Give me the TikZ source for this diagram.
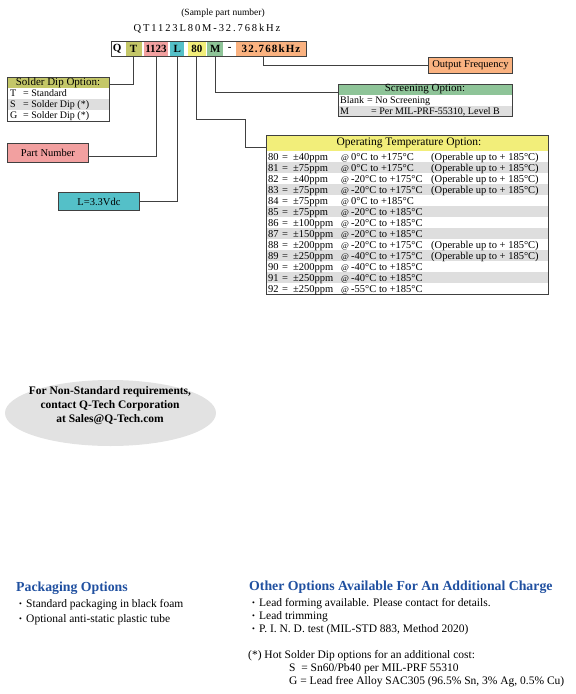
\documentclass[tikz,border=0pt]{standalone}
\usepackage{fontspec}
\setmainfont{Liberation Serif}
\usetikzlibrary{positioning, shapes.geometric}

\definecolor{dipolive}{RGB}{196,199,104}
\definecolor{codepink}{RGB}{242,160,160}
\definecolor{voltteal}{RGB}{84,192,200}
\definecolor{tempyellow}{RGB}{242,238,122}
\definecolor{screengreen}{RGB}{142,196,152}
\definecolor{freqorange}{RGB}{250,178,128}
\definecolor{rowgray}{RGB}{222,222,222}
\definecolor{ovalgray}{RGB}{226,226,226}
\definecolor{titleblue}{RGB}{32,80,160}
\definecolor{edgegray}{RGB}{64,64,64}

\pgfdeclarelayer{background}
\pgfsetlayers{background,main}

\newcommand{\bul}{\makebox[7pt][l]{\raisebox{0.8pt}{\scalebox{0.7}{•}}}}

\begin{document}
\begin{tikzpicture}[x=1pt, y=-1pt,
    seg/.style={fill=#1, inner sep=0pt, minimum height=14pt, font=\fontsize{11}{12}\selectfont\bfseries},
    optbox/.style={draw=edgegray, line width=0.9pt, fill=#1, inner sep=0pt, anchor=north west, font=\fontsize{10.5}{12}\selectfont},
    tablebox/.style={draw=edgegray, line width=0.9pt, inner sep=0pt, anchor=north west},
    cell/.style={inner sep=0pt, anchor=base west, font=\fontsize{10}{11}\selectfont},
    headcell/.style={inner sep=0pt, font=\fontsize{11}{12}\selectfont},
    lead/.style={draw=edgegray, line width=0.9pt},
    heading/.style={inner sep=0pt, anchor=base west, text=titleblue, font=\fontsize{13.8}{16}\selectfont\bfseries},
    bodytext/.style={inner sep=0pt, anchor=base west, font=\fontsize{11.5}{13}\selectfont}
]
\useasboundingbox (0,0) rectangle (576,694);

% Sample part number
\node[inner sep=0pt, font=\fontsize{9.5}{10}\selectfont] (sample) at (223,13) {(Sample part number)};
\node[inner sep=0pt, font=\fontsize{10.5}{12}\selectfont\addfontfeatures{LetterSpace=18}] (sampleno) at (207,29) {QT1123L80M-32.768kHz};

% Part number segments
\node[seg=white, minimum width=12pt, anchor=west] (pQ) at (111,49) {Q};
\node[seg=dipolive, minimum width=16pt, right=2pt of pQ] (pT) {T};
\node[seg=codepink, minimum width=24pt, right=2pt of pT] (pcode) {1123};
\node[seg=voltteal, minimum width=14pt, right=2pt of pcode] (pL) {L};
\node[seg=tempyellow, minimum width=18pt, right=3pt of pL] (ptemp) {80};
\node[seg=screengreen, minimum width=16pt, right=1pt of ptemp] (pM) {M};
\node[seg=white, minimum width=8pt, right=2pt of pM] (pdash) {-};
\node[seg=freqorange, minimum width=70pt, right=2pt of pdash,
      font=\fontsize{11}{12}\selectfont\bfseries\addfontfeatures{LetterSpace=10}] (pfreq) {32.768kHz};
\draw[edgegray, line width=0.8pt] (pQ.north west) rectangle (pfreq.south east);

% Option boxes
\node[optbox=freqorange, minimum width=84pt, minimum height=16pt] (outfreq) at (428,57) {Output Frequency};
\node[optbox=codepink, minimum width=81pt, minimum height=19pt] (part) at (7,143) {Part Number};
\node[optbox=voltteal, minimum width=81pt, minimum height=18pt] (volt) at (58,192) {L=3.3Vdc};

% Solder dip table
\node[tablebox, minimum width=102pt, minimum height=44pt] (dip) at (7,77) {};
\begin{pgfonlayer}{background}
  \fill[dipolive] (7,77) rectangle (109,88);
  \fill[rowgray] (7,99) rectangle (109,110);
\end{pgfonlayer}
\node[headcell] (diphead) at (58,82.5) {Solder Dip Option:};
\foreach \opt/\what [count=\i from 0] in {T/Standard, S/Solder Dip (*), G/Solder Dip (*)} {
  \node[cell] (dipk\opt) at (10,96.8+11*\i) {\opt};
  \node[cell] (dipv\opt) at (23,96.8+11*\i) {= \what};
}

% Screening table
\node[tablebox, minimum width=174pt, minimum height=32pt] (screen) at (338,84) {};
\begin{pgfonlayer}{background}
  \fill[screengreen] (338,84) rectangle (512,95);
  \fill[rowgray] (338,105.5) rectangle (512,116);
\end{pgfonlayer}
\node[headcell] (screenhead) at (425,89.5) {Screening Option:};
\node[cell] (blank) at (340,103.8) {Blank};
\node[cell] (blankv) at (367,103.8) {= No Screening};
\node[cell] (mlev) at (340,114.3) {M};
\node[cell] (mlevv) at (371,114.3) {= Per MIL-PRF-55310, Level B};

% Operating temperature table
\node[tablebox, minimum width=282pt, minimum height=159pt] (temp) at (266,135) {};
\begin{pgfonlayer}{background}
  \fill[tempyellow] (266,135) rectangle (548,151);
\end{pgfonlayer}
\node[headcell, font=\fontsize{11.5}{12}\selectfont] (temphead) at (409,143) {Operating Temperature Option:};
\foreach \code/\ppm/\range/\extra [count=\i from 0] in {
  80/±40ppm/0°C to +175°C/(Operable up to + 185°C),
  81/±75ppm/0°C to +175°C/(Operable up to + 185°C),
  82/±40ppm/-20°C to +175°C/(Operable up to + 185°C),
  83/±75ppm/-20°C to +175°C/(Operable up to + 185°C),
  84/±75ppm/0°C to +185°C/{},
  85/±75ppm/-20°C to +185°C/{},
  86/±100ppm/-20°C to +185°C/{},
  87/±150ppm/-20°C to +185°C/{},
  88/±200ppm/-20°C to +175°C/(Operable up to + 185°C),
  89/±250ppm/-40°C to +175°C/(Operable up to + 185°C),
  90/±200ppm/-40°C to +185°C/{},
  91/±250ppm/-40°C to +185°C/{},
  92/±250ppm/-55°C to +185°C/{}} {
  \pgfmathsetmacro\rowy{151+11*\i}
  \ifodd\i
    \begin{pgfonlayer}{background}
      \fill[rowgray] (266,\rowy) rectangle (548,\rowy+11);
    \end{pgfonlayer}
  \fi
  \node[cell, font=\fontsize{10.5}{11}\selectfont] (tc\code) at (268,\rowy+9) {\code};
  \node[cell, font=\fontsize{10.5}{11}\selectfont] (te\code) at (282,\rowy+9) {=};
  \node[cell, font=\fontsize{10.5}{11}\selectfont] (tp\code) at (293,\rowy+9) {\ppm};
  \node[cell, font=\fontsize{8.5}{11}\selectfont] (ta\code) at (341,\rowy+9) {@};
  \node[cell, font=\fontsize{10.5}{11}\selectfont] (tr\code) at (351,\rowy+9) {\range};
  \node[cell, font=\fontsize{10.5}{11}\selectfont] (tx\code) at (431,\rowy+9) {\extra};
}

% Leads
\draw[lead] (pT.south) |- ([yshift=-7pt]dip.north east);
\draw[lead] (pcode.south) |- ([yshift=-3pt]part.east);
\draw[lead] (pL.south) |- (volt.east);
\draw[lead] (ptemp.south) -- ++(0,63) -- ++(49,0) |- ([yshift=-12pt]temp.north west);
\draw[lead] (pM.south) |- ([yshift=-8pt]screen.north west);
\draw[lead] ([xshift=-8pt]pfreq.south) |- (outfreq.west);

% Non-standard note
\node[ellipse, fill=ovalgray, minimum width=211pt, minimum height=66pt, inner sep=0pt] (oval) at (110.5,413) {};
\node[align=center, inner sep=0pt, font=\fontsize{11.5}{14}\selectfont\bfseries] (ovaltext) at (110,406)
  {For Non-Standard requirements,\\contact Q-Tech Corporation\\at Sales@Q-Tech.com};

% Packaging options
\node[heading] (packhead) at (16,591) {Packaging Options};
\node[bodytext] (pack1) at (19,607.5) {\bul Standard packaging in black foam};
\node[bodytext] (pack2) at (19,622.5) {\bul Optional anti-static plastic tube};

% Other options
\node[heading] (otherhead) at (249,590) {Other Options Available For An Additional Charge};
\node[bodytext] (other1) at (252,606.5) {\bul Lead forming available. Please contact for details.};
\node[bodytext] (other2) at (252,619.5) {\bul Lead trimming};
\node[bodytext] (other3) at (252,632.5) {\bul P. I. N. D. test (MIL-STD 883, Method 2020)};
\node[bodytext] (dipnote) at (248,658.5) {(*) Hot Solder Dip options for an additional cost:};
\node[bodytext] (dipnoteS) at (289,671.5) {S \ = Sn60/Pb40 per MIL-PRF 55310};
\node[bodytext] (dipnoteG) at (289,684.5) {G = Lead free Alloy SAC305 (96.5\% Sn, 3\% Ag, 0.5\% Cu)};
\end{tikzpicture}
\end{document}
